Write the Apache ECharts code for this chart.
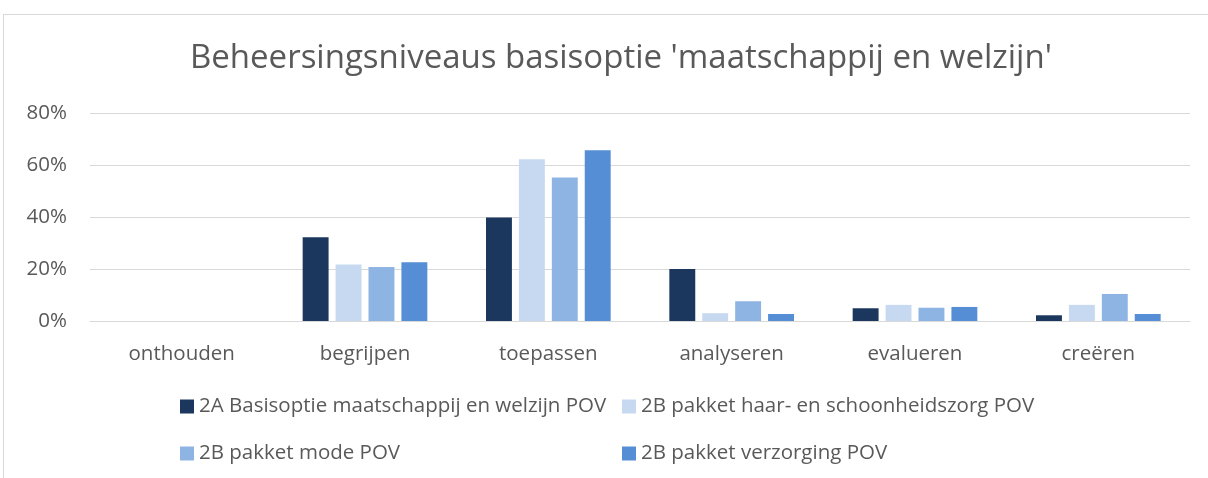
<!DOCTYPE html>
<html><head><meta charset="utf-8">
<script src="https://cdn.jsdelivr.net/npm/echarts@6/dist/echarts.min.js"></script>
<style>
html,body{margin:0;padding:0;background:#fff;overflow:hidden}
#frame{position:absolute;left:3px;top:14px;width:1300px;height:600px;border:1px solid #d9d9d9;box-sizing:border-box}
#c{position:absolute;left:0;top:0;width:1208px;height:478px}
</style></head><body>
<div id="frame"></div>
<div id="c"></div>
<script>
const title = "Beheersingsniveaus basisoptie 'maatschappij en welzijn'";
const categories = ['onthouden','begrijpen','toepassen','analyseren','evalueren','creëren'];
const seriesNames = ['2A Basisoptie maatschappij en welzijn POV','2B pakket haar- en schoonheidszorg POV','2B pakket mode POV','2B pakket verzorging POV'];
const s2A = [0, 32.2, 39.8, 20.0, 4.9, 2.2];
const sHaar = [0, 21.7, 62.2, 3.0, 6.2, 6.2];
const sMode = [0, 20.8, 55.2, 7.6, 5.1, 10.4];
const sVerz = [0, 22.6, 65.7, 2.7, 5.4, 2.7];
const yTicks = [0, 20, 40, 60, 80];
const colors = ['#1b375e','#c6d9f0','#8eb4e3','#558ed5'];
const values = [s2A, sHaar, sMode, sVerz];

const font = 'Open Sans';
const txt = '#595959';
const fs = 20.5;
const chart = echarts.init(document.getElementById('c'));
const legendCommon = {
  orient:'vertical', itemWidth:14, itemHeight:14, itemGap:26, icon:'rect',
  textStyle:{color:txt, fontSize:fs, fontFamily:font, padding:[0,0,0,0]}
};
chart.setOption({
  animation:false,
  title:{text:title, left:190, top:42, padding:0, textStyle:{color:txt, fontSize:33, fontWeight:'normal', fontFamily:font}},
  grid:{left:90, right:18, top:113, bottom:157},
  legend:[
    Object.assign({data:[seriesNames[0], seriesNames[2]], left:180, top:396, padding:0}, legendCommon),
    Object.assign({data:[seriesNames[1], seriesNames[3]], left:622, top:396, padding:0}, legendCommon)
  ],
  xAxis:{type:'category', data:categories,
    axisLine:{lineStyle:{color:'#d9d9d9', width:1}}, axisTick:{show:false},
    axisLabel:{color:txt, fontSize:fs, fontFamily:font, margin:23}},
  yAxis:{type:'value', min:yTicks[0], max:yTicks[yTicks.length-1], interval:20,
    axisLine:{show:false}, axisTick:{show:false},
    splitLine:{lineStyle:{color:'#d9d9d9', width:1}},
    axisLabel:{color:txt, fontSize:fs, fontFamily:font, margin:23, formatter:v=>v+'%'}},
  series: seriesNames.map((n,i)=>({
    name:n, type:'bar', data:values[i], barGap:'27%', barCategoryGap:'32%',
    itemStyle:{color:colors[i]}
  }))
});
</script>
</body></html>
